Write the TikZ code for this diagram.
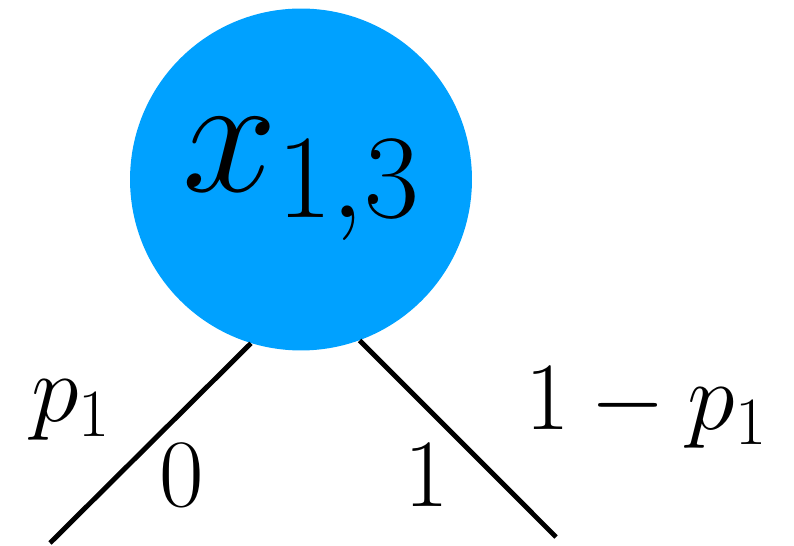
\documentclass[tikz,border=0pt]{standalone}
\usepackage{fix-cm}
\usepackage{xcolor}
\definecolor{nodeblue}{RGB}{0,161,255}

\begin{document}
\begin{tikzpicture}[x=0.02cm,y=-0.02cm,every node/.style={anchor=base},
  edge/.style={line width=2.8pt}]
\useasboundingbox (0,0) rectangle (794,546);
\node[circle,fill=nodeblue,inner sep=0pt,minimum size=6.84cm,anchor=center,font=\fontsize{97}{116}\selectfont] (x13) at (301,179.5) {$x_{1,3}$};
\coordinate (l0) at (50,543);\coordinate (l1) at (556,537);
\draw[edge] (x13.-107) -- (l0);\draw[edge] (x13.-70) -- (l1);
\node[font=\fontsize{55}{66}\selectfont] (pl) at (71,422) {$p_1$};
\node[font=\fontsize{55}{66}\selectfont] (b0) at (182,507) {$0$};
\node[font=\fontsize{55}{66}\selectfont] (b1) at (427,507) {$1$};
\node[font=\fontsize{55}{66}\selectfont] (pr) at (646,430) {$1-p_1$};
\end{tikzpicture}
\end{document}
